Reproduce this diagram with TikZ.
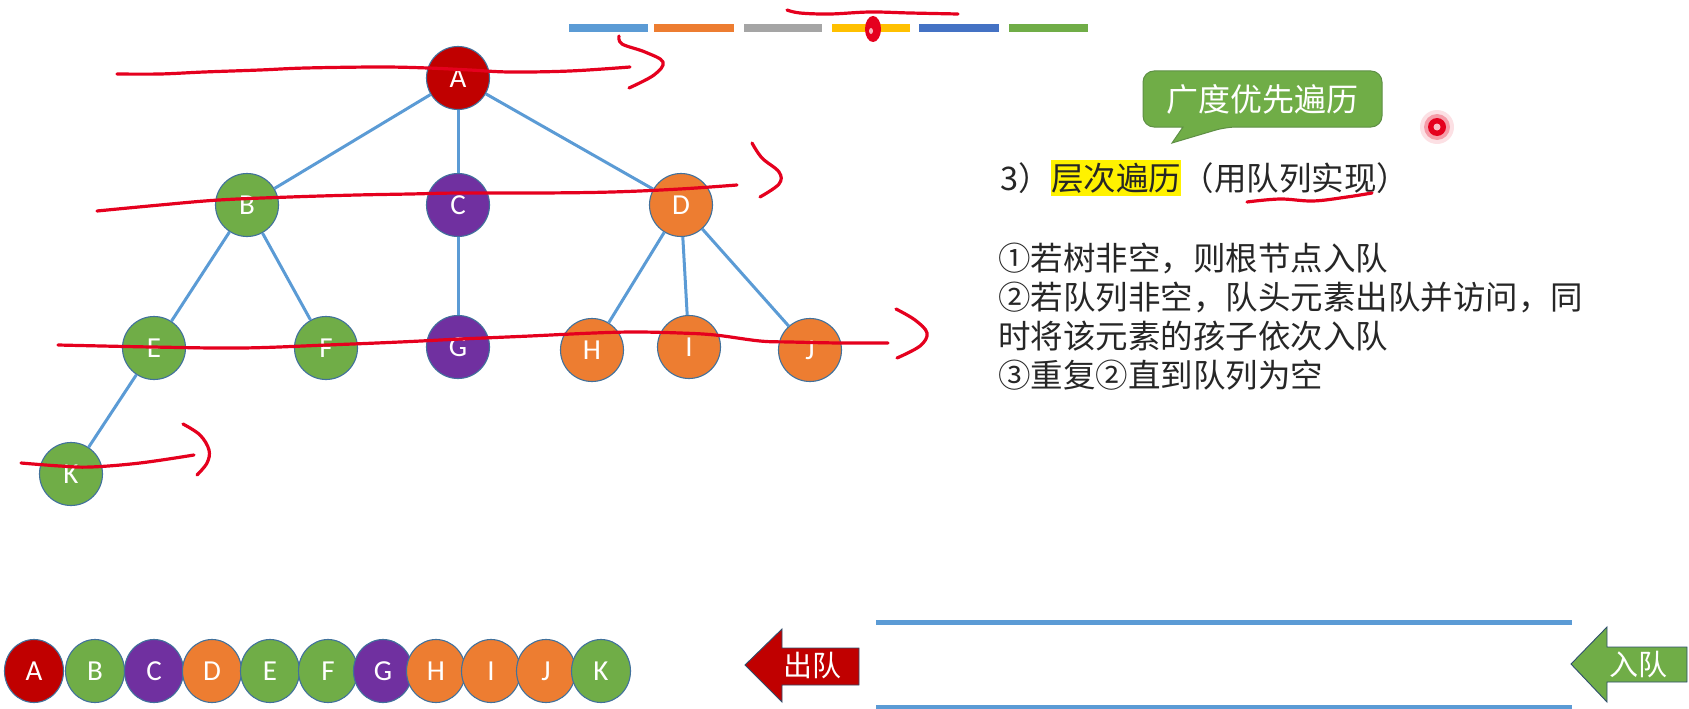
\documentclass[tikz,border=0pt]{standalone}
\usepackage{fontspec}
\setmainfont{Carlito}
\newfontfamily\cjk{Noto Sans CJK SC}
\usetikzlibrary{shapes.geometric}

\definecolor{tgreen}{HTML}{70AD47}
\definecolor{torange}{HTML}{ED7D31}
\definecolor{tpurple}{HTML}{7030A0}
\definecolor{tred}{HTML}{C00000}
\definecolor{edgeblue}{HTML}{5B9BD5}
\definecolor{rimblue}{HTML}{41719C}
\definecolor{pen}{HTML}{E5001E}
\definecolor{bargray}{HTML}{A5A5A5}
\definecolor{baryellow}{HTML}{FFC000}
\definecolor{bardblue}{HTML}{4472C4}
\definecolor{calloutrim}{HTML}{5E8F45}
\definecolor{inktext}{HTML}{262626}

\begin{document}
\begin{tikzpicture}[x=1pt,y=-1pt,
  letter/.style={text=white, font=\fontsize{29pt}{29pt}\selectfont,
                 text height=18.7pt, text depth=0pt, inner sep=0pt},
  treenode/.style={letter, circle, draw=rimblue, line width=1.1pt, minimum size=63pt},
  queuenode/.style={letter, ellipse, draw=rimblue, line width=1.1pt,
                    minimum width=59pt, minimum height=63pt},
  edge/.style={draw=edgeblue, line width=3pt},
  penstroke/.style={draw=pen, line width=3.2pt, line cap=round, line join=round},
  bodytext/.style={anchor=base west, inner sep=0pt, text=inktext,
                   font=\cjk\fontsize{32.5pt}{39pt}\selectfont},
  arrowlabel/.style={text=white, inner sep=0pt, font=\cjk\fontsize{29pt}{29pt}\selectfont},
  rail/.style={draw=edgeblue, line width=5pt},
  colorbar/.style={inner sep=0pt, minimum height=8pt, anchor=north west}
]
\useasboundingbox (0,0) rectangle (1689,709);

% colour strip at the top
\node[colorbar, fill=edgeblue,  minimum width=79pt] (bar1) at (569,24) {};
\node[colorbar, fill=torange,   minimum width=80pt] (bar2) at (654,24) {};
\node[colorbar, fill=bargray,   minimum width=78pt] (bar3) at (744,24) {};
\node[colorbar, fill=baryellow, minimum width=78pt] (bar4) at (832,24) {};
\node[colorbar, fill=bardblue,  minimum width=80pt] (bar5) at (919,24) {};
\node[colorbar, fill=tgreen,    minimum width=79pt] (bar6) at (1009,24) {};

% the tree
\node[treenode, fill=tred]    (a) at (458,78)  {A};
\node[treenode, fill=tgreen]  (b) at (247,205) {B};
\node[treenode, fill=tpurple] (c) at (458,205) {C};
\node[treenode, fill=torange] (d) at (681,205) {D};
\node[treenode, fill=tgreen]  (e) at (154,348) {E};
\node[treenode, fill=tgreen]  (f) at (326,348) {F};
\node[treenode, fill=tpurple] (g) at (458,347) {G};
\node[treenode, fill=torange] (h) at (592,350) {H};
\node[treenode, fill=torange] (i) at (689,347) {I};
\node[treenode, fill=torange] (j) at (810,350) {J};
\node[treenode, fill=tgreen]  (k) at (71,474)  {K};

\draw[edge] (a) -- (b);
\draw[edge] (a) -- (c);
\draw[edge] (a) -- (d);
\draw[edge] (b) -- (e);
\draw[edge] (b) -- (f);
\draw[edge] (c) -- (g);
\draw[edge] (d) -- (h);
\draw[edge] (d) -- (i);
\draw[edge] (d) -- (j);
\draw[edge] (e) -- (k);

% speech bubble
\draw[fill=tgreen, draw=calloutrim, line width=1pt]
  (1143,99) [rounded corners=11pt] -- (1143,71) -- (1382,71) -- (1382,127)
  -- (1226,127) [sharp corners] -- (1172,143) -- (1183,127)
  [rounded corners=11pt] -- (1143,127) -- cycle;
\node[text=white, inner sep=0pt, font=\cjk\fontsize{32pt}{32pt}\selectfont]
  (bubble) at (1262,99) {广度优先遍历};

% laser pointer dot
\fill[pen, opacity=0.12] (1437,127) circle (17pt);
\fill[pen, opacity=0.3]  (1437,127) circle (13pt);
\fill[pen] (1437,127) circle (9pt);
\fill[white!75!pen] (1437,127) circle (3.5pt);

% heading with highlighted keyword
\node[bodytext] (t1) at (1000,190) {3）};
\node[bodytext, anchor=base west, fill=yellow, inner ysep=3pt] (t2) at (t1.base east) {层次遍历};
\node[bodytext, anchor=base west] (t3) at (t2.base east) {（用队列实现）};

% steps
\node[bodytext] (s1) at (998,270) {①若树非空，则根节点入队};
\node[bodytext] (s2) at (998,309) {②若队列非空，队头元素出队并访问，同};
\node[bodytext] (s3) at (998,348) {时将该元素的孩子依次入队};
\node[bodytext] (s4) at (998,387) {③重复②直到队列为空};

% the queue rails
\coordinate (rt1) at (876,622);
\coordinate (rt2) at (1572,622);
\coordinate (rb1) at (876,707);
\coordinate (rb2) at (1572,707);
\draw[rail] (rt1) -- (rt2);
\draw[rail] (rb1) -- (rb2);

% dequeue arrow
\draw[fill=tred, draw=rimblue!70!black, line width=0.9pt]
  (745,665) -- (782,629) -- (782,648) -- (859,648) -- (859,685)
  -- (782,685) -- (782,702) -- cycle;
\node[arrowlabel] (outlabel) at (812,666) {出队};

% enqueue arrow
\draw[fill=tgreen, draw=rimblue!70!black, line width=0.9pt]
  (1571,664) -- (1607,627) -- (1607,647) -- (1687,647) -- (1687,682)
  -- (1607,682) -- (1607,702) -- cycle;
\node[arrowlabel] (inlabel) at (1638,665) {入队};

% visiting order
\node[queuenode, fill=tred]    (q1)  at (34,671)  {A};
\node[queuenode, fill=tgreen]  (q2)  at (95,671)  {B};
\node[queuenode, fill=tpurple] (q3)  at (154,671) {C};
\node[queuenode, fill=torange] (q4)  at (212,671) {D};
\node[queuenode, fill=tgreen]  (q5)  at (270,671) {E};
\node[queuenode, fill=tgreen]  (q6)  at (328,671) {F};
\node[queuenode, fill=tpurple] (q7)  at (383,671) {G};
\node[queuenode, fill=torange] (q8)  at (436,671) {H};
\node[queuenode, fill=torange] (q9)  at (491,671) {I};
\node[queuenode, fill=torange] (q10) at (546,671) {J};
\node[queuenode, fill=tgreen]  (q11) at (601,671) {K};

% pen marks, one per level
\draw[penstroke] plot[smooth, tension=0.6] coordinates
  {(117,74) (160,74) (204,72) (260,70) (306,68) (380,67) (428,68) (470,70) (510,72) (570,71) (630,67)};
\draw[penstroke] plot[smooth, tension=0.6] coordinates
  {(619,36) (622,44) (645,52) (663,62) (654,75) (629,88)};

\draw[penstroke] plot[smooth, tension=0.6] coordinates
  {(97,211) (160,205) (219,200) (290,197) (357,195) (410,194) (459,193) (540,193) (612,192) (680,189) (737,185)};
\draw[penstroke] plot[smooth, tension=0.6] coordinates
  {(752,143) (762,158) (779,172) (779,184) (760,197)};

\draw[penstroke] plot[smooth, tension=0.6] coordinates
  {(58,345) (152,347) (242,348) (327,345) (400,342) (461,339) (530,336) (594,333) (636,332) (680,333) (715,335) (760,341) (790,342) (840,343) (888,343)};
\draw[penstroke] plot[smooth, tension=0.6] coordinates
  {(896,309) (915,320) (927,333) (920,346) (897,358)};

\draw[penstroke] plot[smooth, tension=0.6] coordinates
  {(21,463) (60,466) (91,467) (140,463) (194,455)};
\draw[penstroke] plot[smooth, tension=0.6] coordinates
  {(183,424) (200,435) (209,450) (207,463) (197,475)};

% mark above the colour strip
\draw[penstroke] plot[smooth, tension=0.6] coordinates
  {(787,10) (800,13) (830,14) (870,12) (910,13) (958,14)};
\fill[pen] (873,29) ellipse [x radius=8pt, y radius=13pt];
\fill[white!70!pen] (871,31) ellipse [x radius=2pt, y radius=3pt];

% underline under the queue phrase
\draw[penstroke] plot[smooth, tension=0.6] coordinates
  {(1247,202) (1280,199) (1313,201) (1347,197) (1372,193)};
\end{tikzpicture}
\end{document}
